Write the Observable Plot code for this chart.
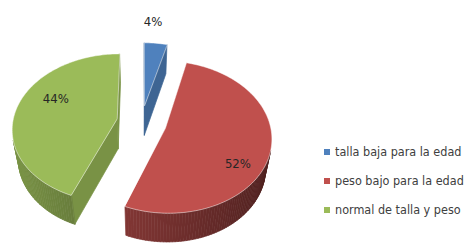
<!DOCTYPE html>
<html><head><meta charset="utf-8">
<script src="https://cdn.jsdelivr.net/npm/d3@7"></script>
<script src="https://cdn.jsdelivr.net/npm/@observablehq/plot@0.6"></script>
<style>
body{margin:0;background:#fff;}
#wrap{position:relative;width:467px;height:248px;overflow:hidden;}
#legend{position:absolute;left:324px;top:137px;font-family:"Liberation Sans Narrow","DejaVu Sans Condensed",sans-serif;font-size:12.5px;color:#404040;}
.row{height:29px;display:flex;align-items:center;white-space:nowrap;}
.sw{display:inline-block;width:6px;height:6px;margin-right:5px;}
</style></head>
<body><div id="wrap"><div id="chart"></div><div id="legend"></div></div>
<script>
// ---- data ----
const categories = ["talla baja para la edad", "peso bajo para la edad", "normal de talla y peso"];
const values = [4, 52, 44];
const labels = ["4%", "52%", "44%"];
const colors = ["#4F81BD", "#C0504D", "#9BBB59"];

// ---- styling / view ----
const W = 467, H = 248;
const phi = 45 * Math.PI / 180, D = 6, F = 626, CX = 141, CY = 122;
const EXPLODE = 0.24, DEPTH = 0.42;
const labelR = [1.4, 0.78, 0.68];
const labelDA = [-3, 17, 14]; // degrees
const S = Math.sin(phi), C = Math.cos(phi);
const camPos = [0, D * S, D * C];
function proj(p) { const d = D - (p[1] * S + p[2] * C); const u = p[1] * C - p[2] * S; return [CX + F * p[0] / d, CY - F * u / d]; }
function dist(p) { return D - (p[1] * S + p[2] * C); }
function vis(n, p) { return n[0] * (camPos[0] - p[0]) + n[1] * (camPos[1] - p[1]) + n[2] * (camPos[2] - p[2]) > 0; }
function shade(col, k) { const c = d3.rgb(col); return d3.rgb(c.r * k, c.g * k, c.b * k).formatHex(); }

const arcs = d3.pie().sort(null).value(d => d)(values);
const sides = [], tops = [], texts = [];
arcs.forEach((a, i) => {
  const a0 = a.startAngle, a1 = a.endAngle, mid = (a0 + a1) / 2;
  const ox = EXPLODE * Math.sin(mid), oz = -EXPLODE * Math.cos(mid);
  const rim = (t, y) => [ox + Math.sin(t), y, oz - Math.cos(t)];
  const cen = y => [ox, y, oz];
  const n = Math.max(4, Math.ceil((a1 - a0) / (Math.PI / 120)));
  const ts = d3.range(n + 1).map(j => a0 + (a1 - a0) * j / n);
  // outer wall
  for (let j = 0; j < n; j++) {
    const tm = (ts[j] + ts[j + 1]) / 2;
    const nrm = [Math.sin(tm), 0, -Math.cos(tm)];
    const p = rim(tm, -DEPTH / 2);
    if (!vis(nrm, p)) continue;
    const k = 0.6 - 0.2 * Math.sin(tm);
    sides.push({ pts: [rim(ts[j], 0), rim(ts[j + 1], 0), rim(ts[j + 1], -DEPTH), rim(ts[j], -DEPTH)], fill: shade(colors[i], k), key: dist(p) });
  }
  // cut faces
  [[a0, a0 - Math.PI / 2], [a1, a1 + Math.PI / 2]].forEach(([t, nt]) => {
    const nrm = [Math.sin(nt), 0, -Math.cos(nt)];
    const p = [ox + 0.5 * Math.sin(t), -DEPTH / 2, oz - 0.5 * Math.cos(t)];
    if (!vis(nrm, p)) return;
    sides.push({ pts: [cen(0), rim(t, 0), rim(t, -DEPTH), cen(-DEPTH)], fill: shade(colors[i], 0.78), key: dist(p) });
  });
  // top face
  tops.push({ pts: [cen(0), ...ts.map(t => rim(t, 0))], fill: colors[i], key: 0 });
  // label
  const lt = mid + labelDA[i] * Math.PI / 180;
  const lp = proj([ox + labelR[i] * Math.sin(lt), 0, oz - labelR[i] * Math.cos(lt)]);
  texts.push({ x: lp[0], y: lp[1], text: labels[i] });
});
sides.sort((a, b) => b.key - a.key);
function toRows(polys, prefix) {
  const rows = [];
  polys.forEach((pg, id) => pg.pts.forEach(p => { const q = proj(p); rows.push({ id: prefix + id, x: q[0], y: q[1], fill: pg.fill }); }));
  return rows;
}
const sideRows = toRows(sides, "s"), topRows = toRows(tops, "t");

const chart = Plot.plot({
  width: W, height: H, margin: 0,
  x: { domain: [0, W], range: [0, W], axis: null },
  y: { domain: [0, H], range: [0, H], axis: null },
  color: { type: "identity" },
  marks: [
    Plot.line(sideRows, { x: "x", y: "y", z: "id", fill: "fill", stroke: "fill", strokeWidth: 0.7, curve: "linear-closed" }),
    Plot.line(topRows, { x: "x", y: "y", z: "id", fill: "fill", stroke: "#ffffff", strokeOpacity: 0.6, strokeWidth: 0.8, curve: "linear-closed" }),
    Plot.text(texts, { x: "x", y: "y", text: "text", fontSize: 13, fontFamily: "'Liberation Sans Narrow','DejaVu Sans Condensed',sans-serif", fill: "#262626" })
  ]
});
document.getElementById("chart").appendChild(chart);

const lg = document.getElementById("legend");
categories.forEach((c, i) => {
  const r = document.createElement("div"); r.className = "row";
  const s = document.createElement("span"); s.className = "sw"; s.style.background = colors[i];
  r.appendChild(s); r.appendChild(document.createTextNode(c)); lg.appendChild(r);
});
</script></body></html>
